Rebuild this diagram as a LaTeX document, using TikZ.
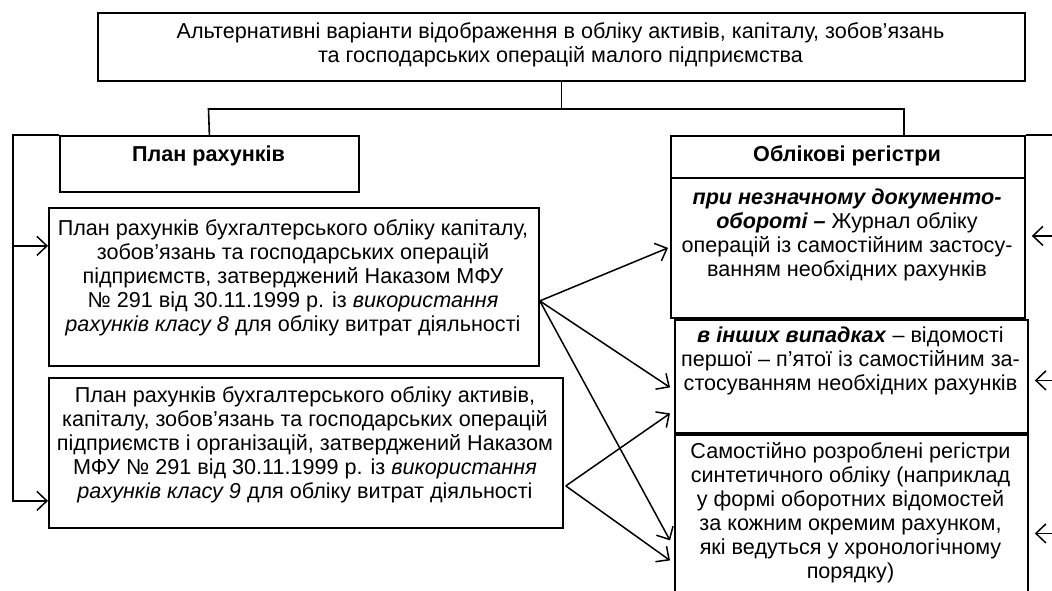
\documentclass[tikz,border=0pt]{standalone}
\usepackage{fontspec}
\setmainfont{Liberation Sans}
\usetikzlibrary{arrows.meta}
\newcommand\fs{\fontsize{21.6}{24}\selectfont}
\tikzset{
  bx/.style={draw, line width=1.8pt, inner sep=0pt, anchor=north west},
  tx/.style={inner sep=0pt, align=center, font=\fs, anchor=north},
  conn/.style={line width=1.6pt},
  arr/.style={line width=1.5pt, -{Straight Barb[length=10pt,width=19pt,line width=1.5pt]}},
}
\begin{document}
\begin{tikzpicture}[x=1pt,y=-1pt]
\useasboundingbox (0,0) rectangle (1052,590);
% top
\node[bx, minimum width=927pt, minimum height=68pt] (top) at (97,12) {};
\node[tx] (topt) at (560.5,22) {Альтернативні варіанти відображення в обліку активів, капіталу, зобов’язань\\та господарських операцій малого підприємства};
% headers
\node[bx, minimum width=299pt, minimum height=56pt] (pr) at (59,135) {};
\node[tx, font=\fs\bfseries] (prt) at (208.5,146) {План рахунків};
\node[bx, minimum width=354pt, minimum height=42pt] (or) at (670,135) {};
\node[tx, font=\fs\bfseries] (ort) at (847,145) {Облікові регістри};
% left boxes
\node[bx, minimum width=490pt, minimum height=158pt] (b1) at (48,207) {};
\node[tx] (b1t) at (293,219) {План рахунків бухгалтерського обліку капіталу,\\зобов’язань та господарських операцій\\підприємств, затверджений Наказом МФУ\\№ 291 від 30.11.1999 р. із \textit{використання}\\\textit{рахунків класу 8} для обліку витрат діяльності};
\node[bx, minimum width=514pt, minimum height=150pt] (b2) at (48,377) {};
\node[tx] (b2t) at (305,386) {План рахунків бухгалтерського обліку активів,\\капіталу, зобов’язань та господарських операцій\\підприємств і організацій, затверджений Наказом\\МФУ № 291 від 30.11.1999 р. із \textit{використання}\\\textit{рахунків класу 9} для обліку витрат діяльності};
% right boxes
\node[bx, minimum width=354pt, minimum height=140pt] (ba) at (670,177) {};
\node[tx] (bat) at (847,189) {\textbf{\textit{при незначному документо-}}\\\textbf{\textit{обороті –}} Журнал обліку\\операцій із самостійним застосу-\\ванням необхідних рахунків};
\node[bx, minimum width=353pt, minimum height=113pt] (bb) at (674,319) {};
\node[tx] (bbt) at (850.5,327) {\textbf{\textit{в інших випадках}} – відомості\\першої – п’ятої із самостійним за-\\стосуванням необхідних рахунків};
\node[bx, minimum width=353pt, minimum height=175pt] (bc) at (674,434) {};
\node[tx] (bct) at (850.5,442) {Самостійно розроблені регістри\\синтетичного обліку (наприклад\\у формі оборотних відомостей\\за кожним окремим рахунком,\\які ведуться у хронологічному\\порядку)};
% tree connectors
\coordinate (jl) at (208.5,109);
\coordinate (jr) at (904,109);
\draw[conn] (top.south) -- (top.south |- jl);
\draw[conn] (pr.north) -- (jl) -- (jr) -- (jr |- or.north);
% left bracket
\coordinate (lx) at (13,135);
\coordinate (a1) at ([yshift=41pt]b1.west);
\coordinate (a2) at ([yshift=-48pt]b2.west);
\draw[arr] (pr.north west) -- (lx) |- (a2);
\draw[arr] (lx |- a1) -- (a1);
% right top line
\coordinate (rx) at (1070,135);
\draw[conn] (or.north east) -- (rx);
% arrows from the right
\coordinate (r1) at ([xshift=6pt,yshift=12pt]ba.east);
\coordinate (r2) at ([xshift=6pt,yshift=-4pt]bb.east);
\coordinate (r3) at ([xshift=6pt,yshift=-11pt]bc.east);
\draw[arr] (r1 -| rx) -- (r1);
\draw[arr] (r2 -| rx) -- (r2);
\draw[arr] (r3 -| rx) -- (r3);
% cross arrows
\coordinate (o1) at ([yshift=-14pt]b1.east);
\coordinate (o2) at ([xshift=2pt,yshift=-33pt]b2.east);
\draw[arr] (o1) -- ([xshift=-2pt]ba.west);
\draw[arr] (o1) -- ([xshift=-4pt,yshift=-11pt]bb.west);
\draw[arr] (o1) -- ([xshift=-4pt,yshift=-18pt]bc.west);
\draw[arr] (o2) -- ([xshift=-4pt,yshift=-37pt]bb.west);
\draw[arr] (o2) -- ([xshift=-4pt,yshift=-38pt]bc.west);
\end{tikzpicture}
\end{document}
